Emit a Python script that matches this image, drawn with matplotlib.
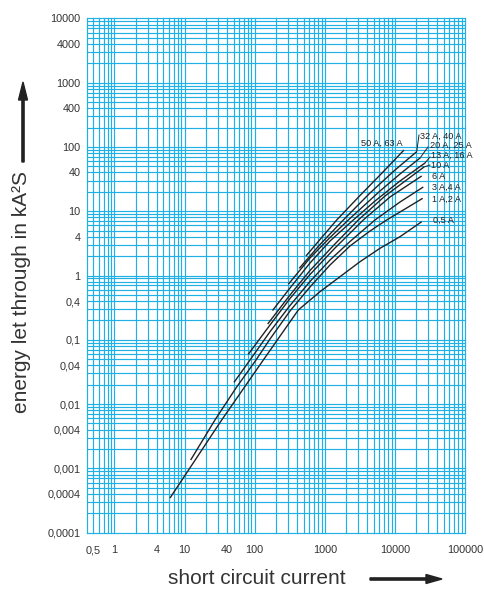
import matplotlib
matplotlib.use("Agg")
import matplotlib.pyplot as plt
import numpy as np

plt.rcParams['font.family'] = ['Liberation Sans', 'DejaVu Sans']

# ---------------- data ----------------
fuse_labels = ["0,5 A", "1 A,2 A", "3 A,4 A", "6 A", "10 A",
               "13 A, 16 A", "20 A, 25 A", "32 A, 40 A", "50 A, 63 A"]

i_05 = [6.19, 33.8, 132.7, 419, 854, 1648, 3178, 6130, 11825, 24120]
e_05 = [0.000346, 0.00566, 0.0485, 0.291, 0.56, 0.958, 1.639, 2.649, 4.012, 6.87]
i_1_2 = [12.2, 27.1, 54.1, 104.4, 165.3, 318.8, 615, 1187, 2288, 4415, 7638, 13940, 24930]
e_1_2 = [0.00135, 0.00566, 0.0178, 0.0485, 0.1029, 0.2805, 0.663, 1.457, 2.876, 4.92, 7.30, 10.82, 15.87]
i_3_4 = [50.7, 85.7, 165.3, 318.8, 615, 1187, 2288, 5202, 11825, 25420]
e_3_4 = [0.0218, 0.0485, 0.1337, 0.3416, 0.807, 1.742, 3.379, 7.30, 13.90, 23.79]
i_6 = [81.0, 165.3, 318.8, 615, 1398, 3541, 8512, 24120]
e_6 = [0.0595, 0.170, 0.4387, 1.036, 2.677, 7.30, 16.63, 35.27]
i_10 = [153.2, 318.8, 615, 1309, 3006, 7225, 26010]
e_10 = [0.176, 0.4973, 1.196, 2.876, 7.30, 17.23, 48.68]
i_13_16 = [179.5, 318.8, 615, 1187, 2551, 5202, 11825, 26880]
e_13_16 = [0.2855, 0.639, 1.565, 3.44, 7.30, 14.41, 29.49, 56.2]
i_20_25 = [301.6, 615, 1187, 2164, 6130, 11825, 22810]
e_20_25 = [0.730, 1.872, 3.90, 7.30, 20.62, 37.9, 67.2]
i_32_40 = [432.7, 854, 1836, 4415, 10030, 20460]
e_32_40 = [1.294, 3.034, 7.30, 19.19, 43.72, 84.2]
i_50_63 = [539.3, 854, 1479, 3178, 6765, 13490]
e_50_63 = [2.011, 3.63, 7.30, 17.54, 40.70, 89.5]

# label anchor points (current, energy)
label_i = [34960, 33820, 33820, 33820, 33270, 33270, 31680, 22810, 13050]
label_e = [7.17, 15.2, 23.4, 35.27, 52.3, 74.8, 107, 147.7, 115]

# leader lines (from curve end to label)
leader_i = [[20460, 22070], [22810, 29670], [26880, 31680], [26010, 31680]]
leader_e = [[84.2, 153.1], [67.2, 99.6], [56.2, 69.7], [48.68, 52.3]]

x_ticks = [0.5, 1, 4, 10, 40, 100, 1000, 10000, 100000]
x_tick_labels = ["0,5", "1", "4", "10", "40", "100", "1000", "10000", "100000"]
y_ticks = [10000, 4000, 1000, 400, 100, 40, 10, 4, 1, 0.4, 0.1, 0.04, 0.01,
           0.004, 0.001, 0.0004, 0.0001]
y_tick_labels = ["10000", "4000", "1000", "400", "100", "40", "10", "4", "1",
                 "0,4", "0,1", "0,04", "0,01", "0,004", "0,001", "0,0004", "0,0001"]

# ---------------- figure ----------------
W, H = 484, 593
fig = plt.figure(figsize=(W / 100, H / 100), dpi=100)
ax = fig.add_axes([86.6 / W, 1 - 532.7 / H, (465 - 86.6) / W, (532.7 - 18.3) / H])
ax.set_xscale("log")
ax.set_yscale("log")
ax.set_xlim(0.4, 100000)
ax.set_ylim(0.0001, 10000)

grid_col = "#1fb0e6"
gx = [m * 10.0 ** k for k in range(-1, 5) for m in range(1, 10) if 0.4 <= m * 10.0 ** k <= 100000] + [100000]
gy = [m * 10.0 ** k for k in range(-4, 4) for m in range(1, 10)] + [10000]
for v in gx:
    ax.axvline(v, color=grid_col, lw=0.85, zorder=1, clip_on=False)
for v in gy:
    ax.axhline(v, color=grid_col, lw=0.85, zorder=1, clip_on=False)

curves_i = [i_05, i_1_2, i_3_4, i_6, i_10, i_13_16, i_20_25, i_32_40, i_50_63]
curves_e = [e_05, e_1_2, e_3_4, e_6, e_10, e_13_16, e_20_25, e_32_40, e_50_63]
for ci, ce in zip(curves_i, curves_e):
    ax.plot(ci, ce, color="#222222", lw=1.0, zorder=3, solid_capstyle="butt")

for li, le in zip(leader_i, leader_e):
    ax.plot(li, le, color="#222222", lw=0.7, zorder=3, clip_on=False)

for k, (txt, li, le) in enumerate(zip(fuse_labels, label_i, label_e)):
    ha = "right" if k == len(fuse_labels) - 1 else "left"
    ax.text(li, le, txt, fontsize=6.6, ha=ha, va="center", color="#222222",
            clip_on=False, zorder=4)

for s in ax.spines.values():
    s.set_visible(False)
ax.set_xticks(x_ticks)
ax.set_xticklabels(x_tick_labels)
ax.set_yticks(y_ticks)
ax.set_yticklabels(y_tick_labels)
ax.minorticks_off()
ax.tick_params(axis="both", length=0, labelsize=7.8, labelcolor="#333333")
ax.tick_params(axis="x", pad=9)
ax.tick_params(axis="y", pad=4.5)

# axis titles with arrows
fig.text(256.5 / W, 1 - 579 / H, "short circuit current", fontsize=15,
         ha="center", va="center", color="#333333")
fig.text(22 / W, 1 - 292 / H, "energy let through in kA\u00b2S", fontsize=15,
         rotation=90, ha="center", va="center", color="#333333")
fig.patches.append(matplotlib.patches.FancyArrow(
    370 / W, 1 - 579 / H, 72 / W, 0, width=2.2 / H, head_width=9 / H,
    head_length=16 / W, length_includes_head=True, color="#222222",
    transform=fig.transFigure, figure=fig))
fig.patches.append(matplotlib.patches.FancyArrow(
    23 / W, 1 - 162 / H, 0, 80 / H, width=2.2 / W, head_width=9 / W,
    head_length=18 / H, length_includes_head=True, color="#222222",
    transform=fig.transFigure, figure=fig))

fig.savefig("out.png", dpi=100)
